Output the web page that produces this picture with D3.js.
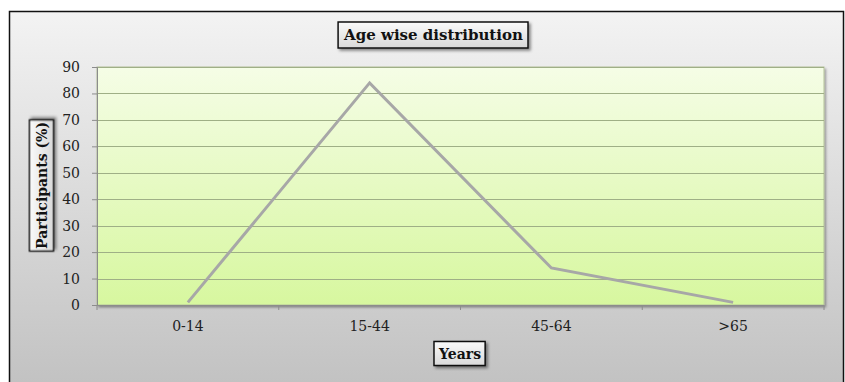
<!DOCTYPE html>
<html>
<head>
<meta charset="utf-8">
<script src="https://cdn.jsdelivr.net/npm/d3@7/dist/d3.min.js"></script>
<style>
  html, body { margin: 0; padding: 0; background: #ffffff; }
  svg { display: block; }
</style>
</head>
<body>
<svg id="chart" width="845" height="382"></svg>
<script>
// Age groups and share of participants (%) in each
const categories = ["0-14", "15-44", "45-64", ">65"];
const participants = [1, 84, 14, 1];
const yTicks = [0, 10, 20, 30, 40, 50, 60, 70, 80, 90];

const chartTitle = "Age wise distribution";
const xTitle = "Years";
const yTitle = "Participants (%)";

const FONT = "'DejaVu Serif', 'Liberation Serif', serif";
const plot = { left: 97, top: 67, right: 824, bottom: 305 };

const svg = d3.select("#chart");
const defs = svg.append("defs");

// Backgrounds
const outerGrad = defs.append("linearGradient").attr("id", "outerGrad")
  .attr("x1", 0).attr("y1", 0).attr("x2", 0).attr("y2", 1);
outerGrad.append("stop").attr("offset", "0%").attr("stop-color", "#f3f3f3");
outerGrad.append("stop").attr("offset", "100%").attr("stop-color", "#c1c1c1");

const plotGrad = defs.append("linearGradient").attr("id", "plotGrad")
  .attr("x1", 0).attr("y1", 0).attr("x2", 0).attr("y2", 1);
plotGrad.append("stop").attr("offset", "0%").attr("stop-color", "#f5fde6");
plotGrad.append("stop").attr("offset", "100%").attr("stop-color", "#d7f79f");

const boxGrad = defs.append("linearGradient").attr("id", "boxGrad")
  .attr("x1", 0).attr("y1", 0).attr("x2", 0).attr("y2", 1);
boxGrad.append("stop").attr("offset", "0%").attr("stop-color", "#fafafa");
boxGrad.append("stop").attr("offset", "100%").attr("stop-color", "#d9d9d9");

const shadow = defs.append("filter").attr("id", "shadow")
  .attr("x", "-20%").attr("y", "-20%").attr("width", "140%").attr("height", "140%");
shadow.append("feDropShadow").attr("dx", 2).attr("dy", 2).attr("stdDeviation", 1.5)
  .attr("flood-color", "#000").attr("flood-opacity", 0.45);

const plotShadow = defs.append("filter").attr("id", "plotShadow")
  .attr("x", "-5%").attr("y", "-5%").attr("width", "110%").attr("height", "110%");
plotShadow.append("feDropShadow").attr("dx", 1.5).attr("dy", 2).attr("stdDeviation", 1.2)
  .attr("flood-color", "#000").attr("flood-opacity", 0.35);

// Chart frame
svg.append("rect")
  .attr("x", 9.5).attr("y", 11.5)
  .attr("width", 834).attr("height", 380)
  .attr("fill", "url(#outerGrad)")
  .attr("stroke", "#111").attr("stroke-width", 1.5);

// Scales
const x = d3.scaleBand().domain(categories).range([plot.left, plot.right]).padding(0);
const y = d3.scaleLinear().domain([0, 90]).range([plot.bottom, plot.top]);

// Plot area
svg.append("rect")
  .attr("x", plot.left).attr("y", plot.top)
  .attr("width", plot.right - plot.left).attr("height", plot.bottom - plot.top)
  .attr("fill", "url(#plotGrad)")
  .attr("stroke", "#b3c09a").attr("stroke-width", 1)
  .attr("filter", "url(#plotShadow)");

// Horizontal gridlines
svg.append("g")
  .selectAll("line")
  .data(yTicks.filter(d => d > 0))
  .join("line")
  .attr("x1", plot.left).attr("x2", plot.right)
  .attr("y1", d => Math.round(y(d)) + 0.5).attr("y2", d => Math.round(y(d)) + 0.5)
  .attr("stroke", "#9faf86").attr("stroke-width", 1);

// Y axis
const yAxis = svg.append("g")
  .attr("transform", `translate(${plot.left},0)`)
  .call(d3.axisLeft(y).tickValues(yTicks).tickSize(5).tickPadding(12));
yAxis.select(".domain").attr("stroke", "#8c8c8c");
yAxis.selectAll(".tick line").attr("stroke", "#8c8c8c");
yAxis.selectAll(".tick text")
  .style("font-family", FONT).style("font-size", "14px").attr("fill", "#222");

// X axis with ticks at category boundaries
const xAxis = svg.append("g")
  .attr("transform", `translate(0,${plot.bottom})`)
  .call(d3.axisBottom(x).tickSize(0).tickPadding(16));
xAxis.select(".domain").attr("stroke", "#8c8c8c");
xAxis.selectAll(".tick text")
  .style("font-family", FONT).style("font-size", "14px").attr("fill", "#222");
xAxis.append("g")
  .selectAll("line")
  .data(categories.map(c => x(c)).concat([plot.right]))
  .join("line")
  .attr("x1", d => d).attr("x2", d => d)
  .attr("y1", 0).attr("y2", 5)
  .attr("stroke", "#8c8c8c");

// Data line
const line = d3.line()
  .x((d, i) => x(categories[i]) + x.bandwidth() / 2)
  .y(d => y(d));
svg.append("path")
  .datum(participants)
  .attr("d", line)
  .attr("fill", "none")
  .attr("stroke", "#a7a7a7")
  .attr("stroke-width", 3)
  .attr("stroke-linejoin", "miter");

// Boxed label helper
function boxedLabel(cx, cy, text, size, rotate, padX, padY) {
  const g = svg.append("g")
    .attr("transform", `translate(${cx},${cy}) rotate(${rotate || 0})`);
  const rect = g.append("rect");
  const t = g.append("text")
    .attr("text-anchor", "middle")
    .attr("dominant-baseline", "central")
    .style("font-family", FONT)
    .style("font-weight", "bold")
    .style("font-size", size + "px")
    .attr("fill", "#111")
    .text(text);
  const bb = t.node().getBBox();
  rect.attr("x", bb.x - padX).attr("y", bb.y - padY)
    .attr("width", bb.width + 2 * padX).attr("height", bb.height + 2 * padY)
    .attr("fill", "url(#boxGrad)")
    .attr("stroke", "#111").attr("stroke-width", 1.5)
    .attr("filter", "url(#shadow)");
  return g;
}

boxedLabel(433.5, 35, chartTitle, 15, 0, 5, 4);
boxedLabel(460, 353.5, xTitle, 14, 0, 4, 4);
boxedLabel(41.5, 185.5, yTitle, 14, -90, 2, 4);
</script>
</body>
</html>
